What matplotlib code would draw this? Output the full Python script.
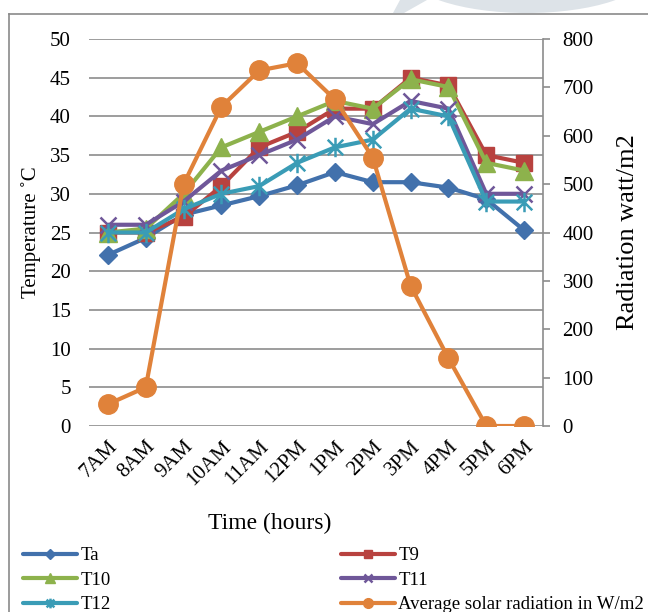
import matplotlib
matplotlib.use("Agg")
import matplotlib.pyplot as plt
from matplotlib.path import Path
from matplotlib.lines import Line2D
from matplotlib.patches import Ellipse, Polygon

plt.rcParams['font.family'] = ['Liberation Serif', 'DejaVu Serif']

hours = ['7AM', '8AM', '9AM', '10AM', '11AM', '12PM', '1PM', '2PM', '3PM', '4PM', '5PM', '6PM']
ta  = [22.1, 24.3, 27.3, 28.5, 29.7, 31.1, 32.8, 31.5, 31.5, 30.8, 29.3, 25.3]
t9  = [25.0, 25.0, 27.0, 31.0, 36.0, 38.0, 41.0, 41.0, 45.0, 44.0, 35.0, 34.0]
t10 = [25.0, 25.5, 30.0, 36.0, 38.0, 40.0, 42.0, 41.0, 44.8, 43.8, 34.0, 33.0]
t11 = [26.0, 26.0, 29.0, 33.0, 35.0, 37.0, 40.0, 39.0, 42.0, 41.0, 30.0, 30.0]
t12 = [25.0, 25.0, 28.0, 30.0, 31.0, 34.0, 36.0, 37.0, 41.0, 40.0, 29.0, 29.0]
radiation = [45, 80, 500, 660, 735, 750, 675, 555, 290, 140, 0, 0]

temp_ticks = list(range(0, 51, 5))
rad_ticks = list(range(0, 801, 100))

W, H = 648, 612
fig = plt.figure(figsize=(W / 100, H / 100), dpi=100)


def fx(px):
    return px / W


def fy(py):
    return 1 - py / H


# faint page watermark at the top edge
wm = '#DDE3E8'
fig.add_artist(Ellipse((fx(527), fy(-27)), 240 / W, 80 / H, color=wm, lw=0, zorder=0))
fig.add_artist(Polygon([(fx(400), fy(0)), (fx(427), fy(0)), (fx(404), fy(13)), (fx(393), fy(13))],
                       closed=True, color=wm, lw=0, zorder=0))

ax = fig.add_axes([fx(89), fy(426), (543 - 89) / W, (426 - 39) / H])
ax2 = ax.twinx()

# asterisk marker: an x crossed by a vertical bar
ast = Path([(-1, -1), (1, 1), (-1, 1), (1, -1), (0, -1.25), (0, 1.25)],
           [Path.MOVETO, Path.LINETO, Path.MOVETO, Path.LINETO, Path.MOVETO, Path.LINETO])

x = list(range(len(hours)))
lw = 3.0
series = [
    ('Ta', ta, '#4271AC', dict(marker='D', ms=9.5)),
    ('T9', t9, '#B8423F', dict(marker='s', ms=11.5)),
    ('T10', t10, '#8DB24C', dict(marker='^', ms=13)),
    ('T11', t11, '#6F5799', dict(marker='x', ms=12, mew=1.8)),
    ('T12', t12, '#3A9CB6', dict(marker=ast, ms=14, mew=1.8, mfc='none')),
]
handles = {}
for name, vals, col, mk in series:
    h, = ax.plot(x, vals, color=col, lw=lw, mec=col, label=name,
                 solid_capstyle='round', **mk)
    handles[name] = h

orange = '#E0823A'
h_rad, = ax2.plot(x, radiation, color=orange, lw=lw, marker='o', ms=14,
                  mec=orange, mfc=orange, solid_capstyle='round',
                  label='Average solar radiation in W/m2')

grid_col = '#8C8C8C'
ax.set_xlim(-0.5, len(hours) - 0.5)
ax.set_ylim(0, 50)
ax2.set_ylim(0, 800)
ax.set_yticks(temp_ticks)
ax2.set_yticks(rad_ticks)
ax.set_xticks(x)
ax.set_xticklabels(hours, rotation=45, ha='right', rotation_mode='anchor', fontsize=15)
ax.yaxis.grid(True, color=grid_col, lw=1.2)
ax.set_axisbelow(True)

for a in (ax, ax2):
    for s in a.spines.values():
        s.set_visible(False)
ax2.spines['right'].set_visible(True)
ax2.spines['right'].set_color(grid_col)
ax2.spines['right'].set_linewidth(1.2)

ax.tick_params(axis='y', length=0, pad=13, labelsize=15)
ax.tick_params(axis='x', length=0, pad=8)
ax2.tick_params(axis='y', length=5, width=1.2, color=grid_col, pad=9, labelsize=15)

ax.set_ylabel('Temperature ˚C', fontsize=15)
ax.yaxis.set_label_coords(-0.106, 0.5)
ax2.set_ylabel('Radiation watt/m2', fontsize=19)
ax2.yaxis.set_label_coords(1.163, 0.5)
ax.set_xlabel('Time (hours)', fontsize=17)
ax.xaxis.set_label_coords(0.399, -0.225)

hl = [handles['Ta'], handles['T10'], handles['T12'], handles['T9'], handles['T11'], h_rad]
fs = 13.5
fig.legend(hl, [h.get_label() for h in hl], loc='upper left',
           bbox_to_anchor=(fx(23), fy(547)), ncol=2, frameon=False,
           fontsize=fs, borderpad=0, borderaxespad=0, handlelength=2.9,
           handletextpad=0.15, columnspacing=12.3, labelspacing=0.4,
           markerscale=0.5)

# chart frame
fig.add_artist(Line2D([fx(9), fx(9)], [0, fy(14)], color='#8A8A8A', lw=1.2))
fig.add_artist(Line2D([fx(9), 1], [fy(14), fy(14)], color='#8A8A8A', lw=1.2))

fig.savefig('out.png', dpi=100)
